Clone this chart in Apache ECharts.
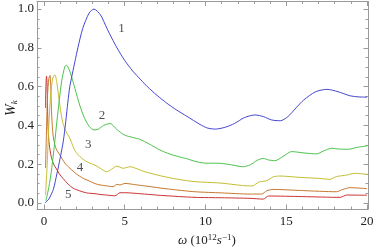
<!DOCTYPE html>
<html>
<head>
<meta charset="utf-8">
<script src="https://cdn.jsdelivr.net/npm/echarts@6/dist/echarts.min.js"></script>
<style>html,body{margin:0;padding:0;background:#fff}#c{width:374px;height:248px}</style>
</head>
<body>
<div id="c"></div>
<script>
var curve1 = [[0.06,0],[0.3,0.02],[0.58,0.07],[0.8,0.15],[1.0,0.23],[1.2,0.32],[1.35,0.42],[1.48,0.52],[1.6,0.6],[1.92,0.73],[2.1,0.8],[2.4,0.9],[2.8,0.98],[3.1,1.0],[3.5,0.97],[3.9,0.9],[4.2,0.85],[4.52,0.8],[5.0,0.735],[5.5,0.68],[6.0,0.635],[6.4,0.6],[7.0,0.555],[7.6,0.515],[8.2,0.48],[8.85,0.447],[9.66,0.405],[10.1,0.387],[10.6,0.381],[11.2,0.39],[11.8,0.41],[12.4,0.44],[13.07,0.454],[13.6,0.445],[14.1,0.428],[14.63,0.424],[15.1,0.445],[15.6,0.49],[16.08,0.531],[16.8,0.573],[17.52,0.586],[18.2,0.574],[18.94,0.553],[19.5,0.547],[20,0.546]];
var curve2 = [[0.12,0.01],[0.3,0.08],[0.47,0.17],[0.65,0.3],[0.8,0.42],[0.95,0.53],[1.1,0.63],[1.3,0.705],[1.4,0.71],[1.6,0.68],[1.92,0.59],[2.23,0.5],[2.5,0.44],[2.8,0.395],[3.1,0.377],[3.35,0.38],[3.7,0.4],[4.09,0.41],[4.5,0.38],[5.0,0.35],[5.5,0.338],[5.94,0.328],[6.5,0.305],[7.18,0.273],[7.8,0.252],[8.42,0.237],[8.85,0.228],[9.35,0.215],[9.9,0.206],[10.5,0.205],[11.0,0.204],[11.6,0.197],[12.3,0.187],[12.76,0.196],[13.2,0.22],[13.58,0.23],[13.9,0.222],[14.3,0.218],[14.8,0.24],[15.33,0.265],[16.1,0.258],[16.88,0.253],[17.3,0.268],[17.8,0.282],[18.3,0.278],[18.84,0.277],[19.4,0.287],[20,0.294]];
var curve3 = [[0.1,0.04],[0.2,0.2],[0.3,0.4],[0.42,0.56],[0.55,0.645],[0.68,0.661],[0.8,0.62],[0.99,0.5],[1.15,0.42],[1.3,0.38],[1.45,0.355],[1.6,0.335],[1.81,0.29],[2.0,0.26],[2.23,0.239],[2.5,0.22],[2.85,0.205],[3.16,0.195],[3.5,0.178],[3.88,0.161],[4.2,0.175],[4.5,0.19],[4.91,0.179],[5.33,0.187],[5.8,0.175],[6.25,0.161],[7.28,0.139],[8.31,0.122],[9.35,0.11],[10.9,0.103],[12.3,0.09],[12.9,0.088],[13.3,0.108],[13.79,0.115],[14.2,0.135],[14.6,0.139],[15.85,0.132],[17.0,0.127],[17.7,0.122],[18.1,0.136],[18.74,0.144],[19.26,0.153],[20,0.148]];
var curve4 = [[0.1,0.18],[0.15,0.35],[0.22,0.55],[0.3,0.64],[0.37,0.658],[0.42,0.6],[0.47,0.47],[0.53,0.38],[0.6,0.33],[0.75,0.28],[0.99,0.247],[1.3,0.205],[1.61,0.179],[2.0,0.15],[2.43,0.127],[2.9,0.11],[3.16,0.1],[3.47,0.093],[3.9,0.088],[4.29,0.084],[4.5,0.096],[4.71,0.093],[5.02,0.101],[5.6,0.095],[6.25,0.088],[7.7,0.072],[9.35,0.058],[11,0.052],[12.76,0.046],[13.48,0.046],[13.79,0.063],[14.2,0.07],[16,0.064],[18.1,0.058],[18.5,0.07],[18.94,0.079],[20,0.074]];
var curve5 = [[0.1,0.49],[0.12,0.6],[0.16,0.655],[0.19,0.62],[0.22,0.5],[0.26,0.38],[0.33,0.3],[0.45,0.24],[0.6,0.2],[0.78,0.175],[0.99,0.145],[1.2,0.125],[1.5,0.097],[1.81,0.076],[2.2,0.063],[2.64,0.052],[3.16,0.048],[3.47,0.044],[4.0,0.04],[4.4,0.037],[4.71,0.053],[5.0,0.053],[5.63,0.05],[7.28,0.039],[9.35,0.029],[11,0.027],[12.76,0.024],[13.58,0.02],[13.9,0.036],[16,0.033],[18.33,0.029],[18.74,0.041],[20,0.04]];
var curveLabels = [[4.8,0.9,'1'],[3.6,0.45,'2'],[2.74,0.3,'3'],[2.23,0.185,'4'],[1.5,0.045,'5']];
var xMajor = [0,5,10,15,20];
var xMinor = [1,2,3,4,6,7,8,9,11,12,13,14,16,17,18,19];
var yMajor = [0,0.2,0.4,0.6,0.8,1.0];
var yMinor = [0.05,0.1,0.15,0.25,0.3,0.35,0.45,0.5,0.55,0.65,0.7,0.75,0.85,0.9,0.95];
var colors = ['#4646d2','#4cc24c','#c4be30','#c8782e','#cc3434'];

var FONT = 'Liberation Serif';
var frame = '#9a9a9a';
var XMIN = -0.43, XMAX = 20.06, YMIN = -0.031, YMAX = 1.039;

function xa(pos, major, showLine) {
  return {
    type: 'value', min: XMIN, max: XMAX, position: pos,
    axisLine: {show: showLine, onZero: false, lineStyle: {color: frame, width: 1}},
    axisTick: {show: true, inside: true, length: major ? 4.5 : 2.5, customValues: major ? xMajor : xMinor, lineStyle: {color: frame, width: 1}},
    axisLabel: (pos === 'bottom' && major) ? {customValues: xMajor, fontFamily: FONT, fontSize: 13, color: '#222', margin: 6} : {show: false},
    splitLine: {show: false}
  };
}
function ya(pos, major, showLine) {
  return {
    type: 'value', min: YMIN, max: YMAX, position: pos,
    axisLine: {show: showLine, onZero: false, lineStyle: {color: frame, width: 1}},
    axisTick: {show: true, inside: true, length: major ? 4.5 : 2.5, customValues: major ? yMajor : yMinor, lineStyle: {color: frame, width: 1}},
    axisLabel: (pos === 'left' && major) ? {customValues: yMajor, fontFamily: FONT, fontSize: 13, color: '#222', margin: 3, formatter: function (v) { return v.toFixed(1); }} : {show: false},
    splitLine: {show: false}
  };
}

var curves = [curve1, curve2, curve3, curve4, curve5];
var series = curves.map(function (d, i) {
  return {type: 'line', data: d, xAxisIndex: 0, yAxisIndex: 0, showSymbol: false, symbol: 'none', smooth: 0.25,
    lineStyle: {color: colors[i], width: 1}, z: 10 - i, animation: false};
});
series.push({
  type: 'scatter', data: curveLabels, xAxisIndex: 0, yAxisIndex: 0, symbolSize: 0, animation: false,
  label: {show: true, position: 'inside', formatter: function (p) { return p.value[2]; }, fontFamily: FONT, fontSize: 13, color: '#222'}
});

var chart = echarts.init(document.getElementById('c'), null, {renderer: 'canvas'});
chart.setOption({
  animation: false,
  backgroundColor: '#fff',
  grid: {left: 37, right: 6, top: 1.5, bottom: 39, outerBoundsMode: 'none'},
  xAxis: [xa('bottom', true, true), xa('bottom', false, false), xa('top', true, true), xa('top', false, false)],
  yAxis: [ya('left', true, true), ya('left', false, false), ya('right', true, true), ya('right', false, false)],
  series: series,
  graphic: [
    {type: 'text', x: 4, y: 116, rotation: Math.PI / 2,
      style: {text: '{w|W}{k|k}', rich: {w: {fontFamily: FONT, fontStyle: 'italic', fontSize: 14, fill: '#222'}, k: {fontFamily: FONT, fontStyle: 'italic', fontSize: 9, fill: '#222', verticalAlign: 'bottom', padding: [6, 0, 0, 0]}}}},
    {type: 'text', left: 178, top: 233,
      style: {text: '{i|ω} {n|(10}{s|12}{i|s}{s|−1}{n|)}', rich: {
        i: {fontFamily: FONT, fontStyle: 'italic', fontSize: 13, fill: '#222'},
        n: {fontFamily: FONT, fontSize: 13, fill: '#222'},
        s: {fontFamily: FONT, fontSize: 9, fill: '#222', padding: [0, 0, 7, 0]}
      }}}
  ]
});
</script>
</body>
</html>
